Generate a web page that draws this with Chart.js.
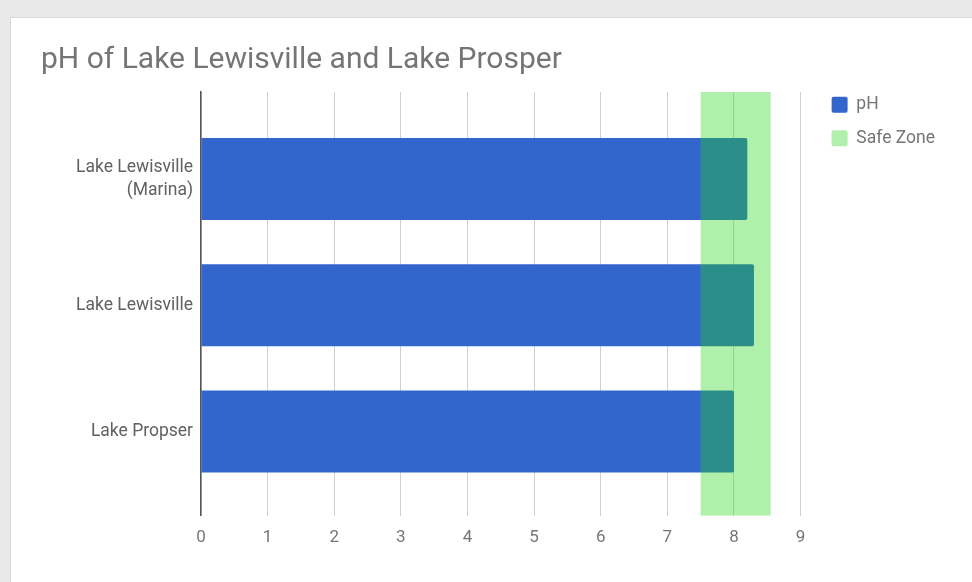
<!DOCTYPE html>
<html>
<head>
<meta charset="utf-8">
<script src="https://cdn.jsdelivr.net/npm/chart.js@4/dist/chart.umd.min.js"></script>
<style>
  html, body { margin: 0; padding: 0; }
  body { width: 972px; height: 582px; background: #e9e9e9; position: relative; overflow: hidden; }
  #card { position: absolute; left: 10px; top: 17px; width: 980px; height: 600px; background: #fff; border: 1px solid #d8d8d8; }
  #wrap { position: absolute; left: 0; top: 0; width: 972px; height: 582px; }
</style>
</head>
<body>
<div id="card"></div>
<div id="wrap"><canvas id="myChart" width="972" height="582"></canvas></div>
<script>
// lakes and their measured pH
var lakes = [['Lake Lewisville', '(Marina)'], 'Lake Lewisville', 'Lake Propser'];
var phValues = [8.2, 8.3, 8.0];
// safe zone range
var safeLow = 7.5;
var safeHigh = 8.55;
var xTicks = [0, 1, 2, 3, 4, 5, 6, 7, 8, 9];
var safeColor = 'rgba(33,214,19,0.36)';

var phPoints = phValues.map(function(v, i) { return { x: v, y: i }; });

// safe zone drawn as a full-height band over the bars
var safeBand = {
  id: 'safeBand',
  afterDatasetsDraw: function(chart) {
    var x = chart.scales.x, area = chart.chartArea, c = chart.ctx;
    var x0 = x.getPixelForValue(safeLow), x1 = x.getPixelForValue(safeHigh);
    c.save();
    c.fillStyle = safeColor;
    c.fillRect(x0, area.top, x1 - x0, area.bottom - area.top);
    c.restore();
  }
};

Chart.defaults.font.family = 'Roboto';
Chart.defaults.color = '#757575';

var ctx = document.getElementById('myChart').getContext('2d');
var myChart = new Chart(ctx, {
  type: 'bar',
  data: {
    datasets: [{
      label: 'pH',
      data: phPoints,
      backgroundColor: '#3366cc',
      barPercentage: 0.65,
      categoryPercentage: 1,
      grouped: false,
      borderRadius: 2,
      borderSkipped: 'start'
    }, {
      label: 'Safe Zone',
      data: [],
      grouped: false,
      backgroundColor: safeColor
    }]
  },
  options: {
    indexAxis: 'y',
    responsive: false,
    animation: false,
    devicePixelRatio: 1,
    layout: { padding: { left: 41, right: 27, top: 0, bottom: 22 } },
    plugins: {
      title: {
        display: true,
        text: 'pH of Lake Lewisville and Lake Prosper',
        align: 'start',
        color: '#757575',
        font: { size: 30, weight: 'normal' },
        padding: { top: 42.5, bottom: 13.5 },
      },
      legend: {
        position: 'right',
        align: 'start',
        title: { display: true, text: ' ', font: { size: 10 }, padding: { top: 68, bottom: 0 } },
        labels: {
          boxWidth: 16,
          boxHeight: 16,
          padding: 16,
          useBorderRadius: true,
          borderRadius: 2,
          color: '#757575',
          font: { size: 17.5 }
        }
      },
      tooltip: { enabled: false }
    },
    scales: {
      x: {
        min: 0,
        max: 9,
        afterBuildTicks: function(scale) {
          scale.ticks = xTicks.map(function(v) { return { value: v }; });
        },
        grid: { color: '#d0d0d0', drawTicks: false },
        border: { display: false },
        ticks: { padding: 12, color: '#757575', font: { size: 17 } }
      },
      y: {
        type: 'linear',
        reverse: true,
        offset: false,
        min: -0.69,
        max: 2.667,
        afterBuildTicks: function(scale) {
          scale.ticks = lakes.map(function(l, i) { return { value: i }; });
        },
        afterFit: function(scale) { scale.width = 160; },
        grid: { display: false },
        border: { display: true, color: '#555', width: 1.5 },
        ticks: {
          padding: 0,
          color: '#616161',
          font: { size: 17.5, lineHeight: 1.27 },
          callback: function(v) { return lakes[v]; }
        }
      },
      // empty spacer between plot and legend
      gap: {
        type: 'linear',
        position: 'right',
        grid: { display: false },
        border: { display: false },
        ticks: { display: false },
        afterFit: function(scale) { scale.width = 15; }
      }
    }
  },
  plugins: [safeBand]
});
</script>
</body>
</html>
